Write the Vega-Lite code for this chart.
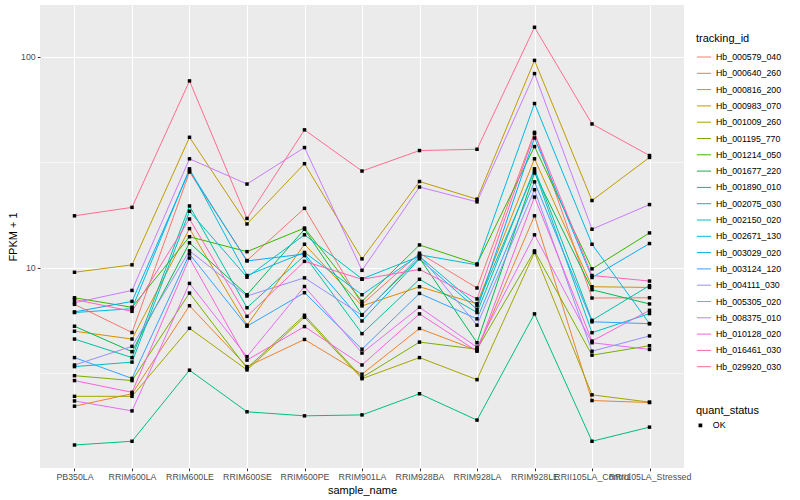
{
"$schema": "https://vega.github.io/schema/vega-lite/v6.json",
"autosize": {"type": "none"},
"width": 644,
"height": 463,
"padding": {"left": 40, "top": 5, "right": 116, "bottom": 32},
"background": "white",
"config": {
  "font": "Liberation Sans",
  "view": {"fill": "#EBEBEB", "stroke": null},
  "axis": {"domain": false, "labelColor": "#4D4D4D", "labelFontSize": 8.8, "tickColor": "#333333", "tickSize": 2.75, "titleFontSize": 11, "titleFontWeight": "normal", "titleColor": "black", "gridColor": "white"},
  "legend": {"titleFontSize": 11, "titleFontWeight": "normal", "titleColor": "black", "labelFontSize": 8.8, "labelColor": "black"}
},
"data": {"values": [
{"tracking_id":"Hb_000579_040","sample_name":"PB350LA","fpkm":6.69,"quant_status":"OK"},
{"tracking_id":"Hb_000579_040","sample_name":"RRIM600LA","fpkm":4.92,"quant_status":"OK"},
{"tracking_id":"Hb_000579_040","sample_name":"RRIM600LE","fpkm":28.4,"quant_status":"OK"},
{"tracking_id":"Hb_000579_040","sample_name":"RRIM600SE","fpkm":10.8,"quant_status":"OK"},
{"tracking_id":"Hb_000579_040","sample_name":"RRIM600PE","fpkm":19.1,"quant_status":"OK"},
{"tracking_id":"Hb_000579_040","sample_name":"RRIM901LA","fpkm":6.69,"quant_status":"OK"},
{"tracking_id":"Hb_000579_040","sample_name":"RRIM928BA","fpkm":11.7,"quant_status":"OK"},
{"tracking_id":"Hb_000579_040","sample_name":"RRIM928LA","fpkm":8.0,"quant_status":"OK"},
{"tracking_id":"Hb_000579_040","sample_name":"RRIM928LE","fpkm":43.8,"quant_status":"OK"},
{"tracking_id":"Hb_000579_040","sample_name":"RRII105LA_Control","fpkm":7.17,"quant_status":"OK"},
{"tracking_id":"Hb_000579_040","sample_name":"RRII105LA_Stressed","fpkm":7.19,"quant_status":"OK"},
{"tracking_id":"Hb_000640_260","sample_name":"PB350LA","fpkm":2.20,"quant_status":"OK"},
{"tracking_id":"Hb_000640_260","sample_name":"RRIM600LA","fpkm":2.52,"quant_status":"OK"},
{"tracking_id":"Hb_000640_260","sample_name":"RRIM600LE","fpkm":6.59,"quant_status":"OK"},
{"tracking_id":"Hb_000640_260","sample_name":"RRIM600SE","fpkm":3.39,"quant_status":"OK"},
{"tracking_id":"Hb_000640_260","sample_name":"RRIM600PE","fpkm":4.56,"quant_status":"OK"},
{"tracking_id":"Hb_000640_260","sample_name":"RRIM901LA","fpkm":3.12,"quant_status":"OK"},
{"tracking_id":"Hb_000640_260","sample_name":"RRIM928BA","fpkm":5.14,"quant_status":"OK"},
{"tracking_id":"Hb_000640_260","sample_name":"RRIM928LA","fpkm":4.05,"quant_status":"OK"},
{"tracking_id":"Hb_000640_260","sample_name":"RRIM928LE","fpkm":17.6,"quant_status":"OK"},
{"tracking_id":"Hb_000640_260","sample_name":"RRII105LA_Control","fpkm":2.34,"quant_status":"OK"},
{"tracking_id":"Hb_000640_260","sample_name":"RRII105LA_Stressed","fpkm":2.29,"quant_status":"OK"},
{"tracking_id":"Hb_000816_200","sample_name":"PB350LA","fpkm":4.99,"quant_status":"OK"},
{"tracking_id":"Hb_000816_200","sample_name":"RRIM600LA","fpkm":4.58,"quant_status":"OK"},
{"tracking_id":"Hb_000816_200","sample_name":"RRIM600LE","fpkm":15.3,"quant_status":"OK"},
{"tracking_id":"Hb_000816_200","sample_name":"RRIM600SE","fpkm":5.33,"quant_status":"OK"},
{"tracking_id":"Hb_000816_200","sample_name":"RRIM600PE","fpkm":12.9,"quant_status":"OK"},
{"tracking_id":"Hb_000816_200","sample_name":"RRIM901LA","fpkm":6.58,"quant_status":"OK"},
{"tracking_id":"Hb_000816_200","sample_name":"RRIM928BA","fpkm":8.11,"quant_status":"OK"},
{"tracking_id":"Hb_000816_200","sample_name":"RRIM928LA","fpkm":6.74,"quant_status":"OK"},
{"tracking_id":"Hb_000816_200","sample_name":"RRIM928LE","fpkm":32.8,"quant_status":"OK"},
{"tracking_id":"Hb_000816_200","sample_name":"RRII105LA_Control","fpkm":8.11,"quant_status":"OK"},
{"tracking_id":"Hb_000816_200","sample_name":"RRII105LA_Stressed","fpkm":8.05,"quant_status":"OK"},
{"tracking_id":"Hb_000983_070","sample_name":"PB350LA","fpkm":9.5,"quant_status":"OK"},
{"tracking_id":"Hb_000983_070","sample_name":"RRIM600LA","fpkm":10.3,"quant_status":"OK"},
{"tracking_id":"Hb_000983_070","sample_name":"RRIM600LE","fpkm":41.5,"quant_status":"OK"},
{"tracking_id":"Hb_000983_070","sample_name":"RRIM600SE","fpkm":16.1,"quant_status":"OK"},
{"tracking_id":"Hb_000983_070","sample_name":"RRIM600PE","fpkm":31.1,"quant_status":"OK"},
{"tracking_id":"Hb_000983_070","sample_name":"RRIM901LA","fpkm":11.0,"quant_status":"OK"},
{"tracking_id":"Hb_000983_070","sample_name":"RRIM928BA","fpkm":25.6,"quant_status":"OK"},
{"tracking_id":"Hb_000983_070","sample_name":"RRIM928LA","fpkm":21.1,"quant_status":"OK"},
{"tracking_id":"Hb_000983_070","sample_name":"RRIM928LE","fpkm":96.1,"quant_status":"OK"},
{"tracking_id":"Hb_000983_070","sample_name":"RRII105LA_Control","fpkm":20.8,"quant_status":"OK"},
{"tracking_id":"Hb_000983_070","sample_name":"RRII105LA_Stressed","fpkm":33.3,"quant_status":"OK"},
{"tracking_id":"Hb_001009_260","sample_name":"PB350LA","fpkm":2.45,"quant_status":"OK"},
{"tracking_id":"Hb_001009_260","sample_name":"RRIM600LA","fpkm":2.45,"quant_status":"OK"},
{"tracking_id":"Hb_001009_260","sample_name":"RRIM600LE","fpkm":5.15,"quant_status":"OK"},
{"tracking_id":"Hb_001009_260","sample_name":"RRIM600SE","fpkm":3.27,"quant_status":"OK"},
{"tracking_id":"Hb_001009_260","sample_name":"RRIM600PE","fpkm":5.81,"quant_status":"OK"},
{"tracking_id":"Hb_001009_260","sample_name":"RRIM901LA","fpkm":2.97,"quant_status":"OK"},
{"tracking_id":"Hb_001009_260","sample_name":"RRIM928BA","fpkm":3.74,"quant_status":"OK"},
{"tracking_id":"Hb_001009_260","sample_name":"RRIM928LA","fpkm":2.94,"quant_status":"OK"},
{"tracking_id":"Hb_001009_260","sample_name":"RRIM928LE","fpkm":11.8,"quant_status":"OK"},
{"tracking_id":"Hb_001009_260","sample_name":"RRII105LA_Control","fpkm":2.49,"quant_status":"OK"},
{"tracking_id":"Hb_001009_260","sample_name":"RRII105LA_Stressed","fpkm":2.30,"quant_status":"OK"},
{"tracking_id":"Hb_001195_770","sample_name":"PB350LA","fpkm":3.07,"quant_status":"OK"},
{"tracking_id":"Hb_001195_770","sample_name":"RRIM600LA","fpkm":2.91,"quant_status":"OK"},
{"tracking_id":"Hb_001195_770","sample_name":"RRIM600LE","fpkm":7.57,"quant_status":"OK"},
{"tracking_id":"Hb_001195_770","sample_name":"RRIM600SE","fpkm":3.33,"quant_status":"OK"},
{"tracking_id":"Hb_001195_770","sample_name":"RRIM600PE","fpkm":5.94,"quant_status":"OK"},
{"tracking_id":"Hb_001195_770","sample_name":"RRIM901LA","fpkm":3.01,"quant_status":"OK"},
{"tracking_id":"Hb_001195_770","sample_name":"RRIM928BA","fpkm":4.43,"quant_status":"OK"},
{"tracking_id":"Hb_001195_770","sample_name":"RRIM928LA","fpkm":4.10,"quant_status":"OK"},
{"tracking_id":"Hb_001195_770","sample_name":"RRIM928LE","fpkm":12.0,"quant_status":"OK"},
{"tracking_id":"Hb_001195_770","sample_name":"RRII105LA_Control","fpkm":3.84,"quant_status":"OK"},
{"tracking_id":"Hb_001195_770","sample_name":"RRII105LA_Stressed","fpkm":4.26,"quant_status":"OK"},
{"tracking_id":"Hb_001214_050","sample_name":"PB350LA","fpkm":7.19,"quant_status":"OK"},
{"tracking_id":"Hb_001214_050","sample_name":"RRIM600LA","fpkm":6.48,"quant_status":"OK"},
{"tracking_id":"Hb_001214_050","sample_name":"RRIM600LE","fpkm":14.0,"quant_status":"OK"},
{"tracking_id":"Hb_001214_050","sample_name":"RRIM600SE","fpkm":11.9,"quant_status":"OK"},
{"tracking_id":"Hb_001214_050","sample_name":"RRIM600PE","fpkm":15.4,"quant_status":"OK"},
{"tracking_id":"Hb_001214_050","sample_name":"RRIM901LA","fpkm":6.91,"quant_status":"OK"},
{"tracking_id":"Hb_001214_050","sample_name":"RRIM928BA","fpkm":12.8,"quant_status":"OK"},
{"tracking_id":"Hb_001214_050","sample_name":"RRIM928LA","fpkm":10.4,"quant_status":"OK"},
{"tracking_id":"Hb_001214_050","sample_name":"RRIM928LE","fpkm":37.5,"quant_status":"OK"},
{"tracking_id":"Hb_001214_050","sample_name":"RRII105LA_Control","fpkm":9.86,"quant_status":"OK"},
{"tracking_id":"Hb_001214_050","sample_name":"RRII105LA_Stressed","fpkm":14.6,"quant_status":"OK"},
{"tracking_id":"Hb_001677_220","sample_name":"PB350LA","fpkm":5.27,"quant_status":"OK"},
{"tracking_id":"Hb_001677_220","sample_name":"RRIM600LA","fpkm":3.99,"quant_status":"OK"},
{"tracking_id":"Hb_001677_220","sample_name":"RRIM600LE","fpkm":13.1,"quant_status":"OK"},
{"tracking_id":"Hb_001677_220","sample_name":"RRIM600SE","fpkm":7.43,"quant_status":"OK"},
{"tracking_id":"Hb_001677_220","sample_name":"RRIM600PE","fpkm":15.2,"quant_status":"OK"},
{"tracking_id":"Hb_001677_220","sample_name":"RRIM901LA","fpkm":5.98,"quant_status":"OK"},
{"tracking_id":"Hb_001677_220","sample_name":"RRIM928BA","fpkm":11.1,"quant_status":"OK"},
{"tracking_id":"Hb_001677_220","sample_name":"RRIM928LA","fpkm":4.40,"quant_status":"OK"},
{"tracking_id":"Hb_001677_220","sample_name":"RRIM928LE","fpkm":28.1,"quant_status":"OK"},
{"tracking_id":"Hb_001677_220","sample_name":"RRII105LA_Control","fpkm":7.85,"quant_status":"OK"},
{"tracking_id":"Hb_001677_220","sample_name":"RRII105LA_Stressed","fpkm":6.72,"quant_status":"OK"},
{"tracking_id":"Hb_001890_010","sample_name":"PB350LA","fpkm":1.44,"quant_status":"OK"},
{"tracking_id":"Hb_001890_010","sample_name":"RRIM600LA","fpkm":1.50,"quant_status":"OK"},
{"tracking_id":"Hb_001890_010","sample_name":"RRIM600LE","fpkm":3.26,"quant_status":"OK"},
{"tracking_id":"Hb_001890_010","sample_name":"RRIM600SE","fpkm":2.07,"quant_status":"OK"},
{"tracking_id":"Hb_001890_010","sample_name":"RRIM600PE","fpkm":1.98,"quant_status":"OK"},
{"tracking_id":"Hb_001890_010","sample_name":"RRIM901LA","fpkm":2.0,"quant_status":"OK"},
{"tracking_id":"Hb_001890_010","sample_name":"RRIM928BA","fpkm":2.52,"quant_status":"OK"},
{"tracking_id":"Hb_001890_010","sample_name":"RRIM928LA","fpkm":1.89,"quant_status":"OK"},
{"tracking_id":"Hb_001890_010","sample_name":"RRIM928LE","fpkm":6.03,"quant_status":"OK"},
{"tracking_id":"Hb_001890_010","sample_name":"RRII105LA_Control","fpkm":1.50,"quant_status":"OK"},
{"tracking_id":"Hb_001890_010","sample_name":"RRII105LA_Stressed","fpkm":1.75,"quant_status":"OK"},
{"tracking_id":"Hb_002075_030","sample_name":"PB350LA","fpkm":4.58,"quant_status":"OK"},
{"tracking_id":"Hb_002075_030","sample_name":"RRIM600LA","fpkm":3.74,"quant_status":"OK"},
{"tracking_id":"Hb_002075_030","sample_name":"RRIM600LE","fpkm":19.6,"quant_status":"OK"},
{"tracking_id":"Hb_002075_030","sample_name":"RRIM600SE","fpkm":6.45,"quant_status":"OK"},
{"tracking_id":"Hb_002075_030","sample_name":"RRIM600PE","fpkm":11.4,"quant_status":"OK"},
{"tracking_id":"Hb_002075_030","sample_name":"RRIM901LA","fpkm":4.86,"quant_status":"OK"},
{"tracking_id":"Hb_002075_030","sample_name":"RRIM928BA","fpkm":8.8,"quant_status":"OK"},
{"tracking_id":"Hb_002075_030","sample_name":"RRIM928LA","fpkm":6.12,"quant_status":"OK"},
{"tracking_id":"Hb_002075_030","sample_name":"RRIM928LE","fpkm":29.4,"quant_status":"OK"},
{"tracking_id":"Hb_002075_030","sample_name":"RRII105LA_Control","fpkm":5.62,"quant_status":"OK"},
{"tracking_id":"Hb_002075_030","sample_name":"RRII105LA_Stressed","fpkm":8.21,"quant_status":"OK"},
{"tracking_id":"Hb_002150_020","sample_name":"PB350LA","fpkm":3.39,"quant_status":"OK"},
{"tracking_id":"Hb_002150_020","sample_name":"RRIM600LA","fpkm":3.56,"quant_status":"OK"},
{"tracking_id":"Hb_002150_020","sample_name":"RRIM600LE","fpkm":18.5,"quant_status":"OK"},
{"tracking_id":"Hb_002150_020","sample_name":"RRIM600SE","fpkm":9.0,"quant_status":"OK"},
{"tracking_id":"Hb_002150_020","sample_name":"RRIM600PE","fpkm":14.3,"quant_status":"OK"},
{"tracking_id":"Hb_002150_020","sample_name":"RRIM901LA","fpkm":8.84,"quant_status":"OK"},
{"tracking_id":"Hb_002150_020","sample_name":"RRIM928BA","fpkm":11.3,"quant_status":"OK"},
{"tracking_id":"Hb_002150_020","sample_name":"RRIM928LA","fpkm":6.62,"quant_status":"OK"},
{"tracking_id":"Hb_002150_020","sample_name":"RRIM928LE","fpkm":28.7,"quant_status":"OK"},
{"tracking_id":"Hb_002150_020","sample_name":"RRII105LA_Control","fpkm":4.91,"quant_status":"OK"},
{"tracking_id":"Hb_002150_020","sample_name":"RRII105LA_Stressed","fpkm":6.05,"quant_status":"OK"},
{"tracking_id":"Hb_002671_130","sample_name":"PB350LA","fpkm":6.12,"quant_status":"OK"},
{"tracking_id":"Hb_002671_130","sample_name":"RRIM600LA","fpkm":6.38,"quant_status":"OK"},
{"tracking_id":"Hb_002671_130","sample_name":"RRIM600LE","fpkm":29.4,"quant_status":"OK"},
{"tracking_id":"Hb_002671_130","sample_name":"RRIM600SE","fpkm":9.17,"quant_status":"OK"},
{"tracking_id":"Hb_002671_130","sample_name":"RRIM600PE","fpkm":11.8,"quant_status":"OK"},
{"tracking_id":"Hb_002671_130","sample_name":"RRIM901LA","fpkm":7.43,"quant_status":"OK"},
{"tracking_id":"Hb_002671_130","sample_name":"RRIM928BA","fpkm":11.5,"quant_status":"OK"},
{"tracking_id":"Hb_002671_130","sample_name":"RRIM928LA","fpkm":10.3,"quant_status":"OK"},
{"tracking_id":"Hb_002671_130","sample_name":"RRIM928LE","fpkm":60.0,"quant_status":"OK"},
{"tracking_id":"Hb_002671_130","sample_name":"RRII105LA_Control","fpkm":12.9,"quant_status":"OK"},
{"tracking_id":"Hb_002671_130","sample_name":"RRII105LA_Stressed","fpkm":5.42,"quant_status":"OK"},
{"tracking_id":"Hb_003029_020","sample_name":"PB350LA","fpkm":6.16,"quant_status":"OK"},
{"tracking_id":"Hb_003029_020","sample_name":"RRIM600LA","fpkm":6.91,"quant_status":"OK"},
{"tracking_id":"Hb_003029_020","sample_name":"RRIM600LE","fpkm":28.9,"quant_status":"OK"},
{"tracking_id":"Hb_003029_020","sample_name":"RRIM600SE","fpkm":10.75,"quant_status":"OK"},
{"tracking_id":"Hb_003029_020","sample_name":"RRIM600PE","fpkm":11.6,"quant_status":"OK"},
{"tracking_id":"Hb_003029_020","sample_name":"RRIM901LA","fpkm":5.58,"quant_status":"OK"},
{"tracking_id":"Hb_003029_020","sample_name":"RRIM928BA","fpkm":11.0,"quant_status":"OK"},
{"tracking_id":"Hb_003029_020","sample_name":"RRIM928LA","fpkm":6.34,"quant_status":"OK"},
{"tracking_id":"Hb_003029_020","sample_name":"RRIM928LE","fpkm":41.2,"quant_status":"OK"},
{"tracking_id":"Hb_003029_020","sample_name":"RRII105LA_Control","fpkm":8.97,"quant_status":"OK"},
{"tracking_id":"Hb_003029_020","sample_name":"RRII105LA_Stressed","fpkm":13.0,"quant_status":"OK"},
{"tracking_id":"Hb_003124_120","sample_name":"PB350LA","fpkm":3.74,"quant_status":"OK"},
{"tracking_id":"Hb_003124_120","sample_name":"RRIM600LA","fpkm":2.98,"quant_status":"OK"},
{"tracking_id":"Hb_003124_120","sample_name":"RRIM600LE","fpkm":11.6,"quant_status":"OK"},
{"tracking_id":"Hb_003124_120","sample_name":"RRIM600SE","fpkm":5.27,"quant_status":"OK"},
{"tracking_id":"Hb_003124_120","sample_name":"RRIM600PE","fpkm":7.60,"quant_status":"OK"},
{"tracking_id":"Hb_003124_120","sample_name":"RRIM901LA","fpkm":4.10,"quant_status":"OK"},
{"tracking_id":"Hb_003124_120","sample_name":"RRIM928BA","fpkm":7.54,"quant_status":"OK"},
{"tracking_id":"Hb_003124_120","sample_name":"RRIM928LA","fpkm":5.71,"quant_status":"OK"},
{"tracking_id":"Hb_003124_120","sample_name":"RRIM928LE","fpkm":25.5,"quant_status":"OK"},
{"tracking_id":"Hb_003124_120","sample_name":"RRII105LA_Control","fpkm":5.53,"quant_status":"OK"},
{"tracking_id":"Hb_003124_120","sample_name":"RRII105LA_Stressed","fpkm":5.42,"quant_status":"OK"},
{"tracking_id":"Hb_004111_030","sample_name":"PB350LA","fpkm":3.45,"quant_status":"OK"},
{"tracking_id":"Hb_004111_030","sample_name":"RRIM600LA","fpkm":4.23,"quant_status":"OK"},
{"tracking_id":"Hb_004111_030","sample_name":"RRIM600LE","fpkm":12.0,"quant_status":"OK"},
{"tracking_id":"Hb_004111_030","sample_name":"RRIM600SE","fpkm":7.33,"quant_status":"OK"},
{"tracking_id":"Hb_004111_030","sample_name":"RRIM600PE","fpkm":8.94,"quant_status":"OK"},
{"tracking_id":"Hb_004111_030","sample_name":"RRIM901LA","fpkm":5.94,"quant_status":"OK"},
{"tracking_id":"Hb_004111_030","sample_name":"RRIM928BA","fpkm":11.4,"quant_status":"OK"},
{"tracking_id":"Hb_004111_030","sample_name":"RRIM928LA","fpkm":5.33,"quant_status":"OK"},
{"tracking_id":"Hb_004111_030","sample_name":"RRIM928LE","fpkm":23.4,"quant_status":"OK"},
{"tracking_id":"Hb_004111_030","sample_name":"RRII105LA_Control","fpkm":4.01,"quant_status":"OK"},
{"tracking_id":"Hb_004111_030","sample_name":"RRII105LA_Stressed","fpkm":4.74,"quant_status":"OK"},
{"tracking_id":"Hb_005305_020","sample_name":"PB350LA","fpkm":6.81,"quant_status":"OK"},
{"tracking_id":"Hb_005305_020","sample_name":"RRIM600LA","fpkm":7.79,"quant_status":"OK"},
{"tracking_id":"Hb_005305_020","sample_name":"RRIM600LE","fpkm":32.8,"quant_status":"OK"},
{"tracking_id":"Hb_005305_020","sample_name":"RRIM600SE","fpkm":24.9,"quant_status":"OK"},
{"tracking_id":"Hb_005305_020","sample_name":"RRIM600PE","fpkm":37.1,"quant_status":"OK"},
{"tracking_id":"Hb_005305_020","sample_name":"RRIM901LA","fpkm":9.7,"quant_status":"OK"},
{"tracking_id":"Hb_005305_020","sample_name":"RRIM928BA","fpkm":24.1,"quant_status":"OK"},
{"tracking_id":"Hb_005305_020","sample_name":"RRIM928LA","fpkm":20.5,"quant_status":"OK"},
{"tracking_id":"Hb_005305_020","sample_name":"RRIM928LE","fpkm":83.2,"quant_status":"OK"},
{"tracking_id":"Hb_005305_020","sample_name":"RRII105LA_Control","fpkm":15.2,"quant_status":"OK"},
{"tracking_id":"Hb_005305_020","sample_name":"RRII105LA_Stressed","fpkm":19.9,"quant_status":"OK"},
{"tracking_id":"Hb_008375_010","sample_name":"PB350LA","fpkm":2.33,"quant_status":"OK"},
{"tracking_id":"Hb_008375_010","sample_name":"RRIM600LA","fpkm":2.09,"quant_status":"OK"},
{"tracking_id":"Hb_008375_010","sample_name":"RRIM600LE","fpkm":8.41,"quant_status":"OK"},
{"tracking_id":"Hb_008375_010","sample_name":"RRIM600SE","fpkm":3.78,"quant_status":"OK"},
{"tracking_id":"Hb_008375_010","sample_name":"RRIM600PE","fpkm":8.13,"quant_status":"OK"},
{"tracking_id":"Hb_008375_010","sample_name":"RRIM901LA","fpkm":3.93,"quant_status":"OK"},
{"tracking_id":"Hb_008375_010","sample_name":"RRIM928BA","fpkm":6.48,"quant_status":"OK"},
{"tracking_id":"Hb_008375_010","sample_name":"RRIM928LA","fpkm":4.19,"quant_status":"OK"},
{"tracking_id":"Hb_008375_010","sample_name":"RRIM928LE","fpkm":14.3,"quant_status":"OK"},
{"tracking_id":"Hb_008375_010","sample_name":"RRII105LA_Control","fpkm":4.40,"quant_status":"OK"},
{"tracking_id":"Hb_008375_010","sample_name":"RRII105LA_Stressed","fpkm":4.09,"quant_status":"OK"},
{"tracking_id":"Hb_010128_020","sample_name":"PB350LA","fpkm":2.91,"quant_status":"OK"},
{"tracking_id":"Hb_010128_020","sample_name":"RRIM600LA","fpkm":2.56,"quant_status":"OK"},
{"tracking_id":"Hb_010128_020","sample_name":"RRIM600LE","fpkm":11.1,"quant_status":"OK"},
{"tracking_id":"Hb_010128_020","sample_name":"RRIM600SE","fpkm":3.64,"quant_status":"OK"},
{"tracking_id":"Hb_010128_020","sample_name":"RRIM600PE","fpkm":5.25,"quant_status":"OK"},
{"tracking_id":"Hb_010128_020","sample_name":"RRIM901LA","fpkm":3.45,"quant_status":"OK"},
{"tracking_id":"Hb_010128_020","sample_name":"RRIM928BA","fpkm":6.03,"quant_status":"OK"},
{"tracking_id":"Hb_010128_020","sample_name":"RRIM928LA","fpkm":4.01,"quant_status":"OK"},
{"tracking_id":"Hb_010128_020","sample_name":"RRIM928LE","fpkm":21.6,"quant_status":"OK"},
{"tracking_id":"Hb_010128_020","sample_name":"RRII105LA_Control","fpkm":4.48,"quant_status":"OK"},
{"tracking_id":"Hb_010128_020","sample_name":"RRII105LA_Stressed","fpkm":6.27,"quant_status":"OK"},
{"tracking_id":"Hb_016461_030","sample_name":"PB350LA","fpkm":7.06,"quant_status":"OK"},
{"tracking_id":"Hb_016461_030","sample_name":"RRIM600LA","fpkm":6.20,"quant_status":"OK"},
{"tracking_id":"Hb_016461_030","sample_name":"RRIM600LE","fpkm":17.0,"quant_status":"OK"},
{"tracking_id":"Hb_016461_030","sample_name":"RRIM600SE","fpkm":5.87,"quant_status":"OK"},
{"tracking_id":"Hb_016461_030","sample_name":"RRIM600PE","fpkm":10.7,"quant_status":"OK"},
{"tracking_id":"Hb_016461_030","sample_name":"RRIM901LA","fpkm":8.80,"quant_status":"OK"},
{"tracking_id":"Hb_016461_030","sample_name":"RRIM928BA","fpkm":9.8,"quant_status":"OK"},
{"tracking_id":"Hb_016461_030","sample_name":"RRIM928LA","fpkm":7.10,"quant_status":"OK"},
{"tracking_id":"Hb_016461_030","sample_name":"RRIM928LE","fpkm":43.2,"quant_status":"OK"},
{"tracking_id":"Hb_016461_030","sample_name":"RRII105LA_Control","fpkm":9.17,"quant_status":"OK"},
{"tracking_id":"Hb_016461_030","sample_name":"RRII105LA_Stressed","fpkm":8.63,"quant_status":"OK"},
{"tracking_id":"Hb_029920_030","sample_name":"PB350LA","fpkm":17.6,"quant_status":"OK"},
{"tracking_id":"Hb_029920_030","sample_name":"RRIM600LA","fpkm":19.3,"quant_status":"OK"},
{"tracking_id":"Hb_029920_030","sample_name":"RRIM600LE","fpkm":76.8,"quant_status":"OK"},
{"tracking_id":"Hb_029920_030","sample_name":"RRIM600SE","fpkm":17.1,"quant_status":"OK"},
{"tracking_id":"Hb_029920_030","sample_name":"RRIM600PE","fpkm":45.0,"quant_status":"OK"},
{"tracking_id":"Hb_029920_030","sample_name":"RRIM901LA","fpkm":28.7,"quant_status":"OK"},
{"tracking_id":"Hb_029920_030","sample_name":"RRIM928BA","fpkm":35.9,"quant_status":"OK"},
{"tracking_id":"Hb_029920_030","sample_name":"RRIM928LA","fpkm":36.4,"quant_status":"OK"},
{"tracking_id":"Hb_029920_030","sample_name":"RRIM928LE","fpkm":138,"quant_status":"OK"},
{"tracking_id":"Hb_029920_030","sample_name":"RRII105LA_Control","fpkm":48.0,"quant_status":"OK"},
{"tracking_id":"Hb_029920_030","sample_name":"RRII105LA_Stressed","fpkm":34.0,"quant_status":"OK"}
]},
"encoding": {
  "x": {"field": "sample_name", "type": "nominal",
        "scale": {"type": "point", "padding": 0.6, "domain": ["PB350LA","RRIM600LA","RRIM600LE","RRIM600SE","RRIM600PE","RRIM901LA","RRIM928BA","RRIM928LA","RRIM928LE","RRII105LA_Control","RRII105LA_Stressed"]},
        "axis": {"title": "sample_name", "labelAngle": 0, "labelOverlap": false, "grid": true, "gridWidth": 1.1, "labelPadding": 2, "titlePadding": 3}},
  "y": {"field": "fpkm", "type": "quantitative",
        "scale": {"type": "log", "domain": [1.12, 176], "nice": false, "zero": false},
        "axis": {"title": "FPKM + 1", "values": [3.1623, 10, 31.623, 100], "grid": true,
                 "labelExpr": "datum.value == 10 || datum.value == 100 ? format(datum.value, 'd') : ''",
                 "tickOpacity": {"condition": {"test": "datum.value == 10 || datum.value == 100", "value": 1}, "value": 0},
                 "gridWidth": {"condition": {"test": "datum.value == 10 || datum.value == 100", "value": 1.1}, "value": 0.55},
                 "labelPadding": 2, "titlePadding": 2}}
},
"layer": [
  {"mark": {"type": "line", "strokeWidth": 1},
   "encoding": {"color": {"field": "tracking_id", "type": "nominal",
      "scale": {"range": ["#F8766D","#EA8331","#D89000","#C09B00","#A3A500","#7CAE00","#39B600","#00BB4E","#00BF7D","#00C1A3","#00BFC4","#00BAE0","#00B0F6","#35A2FF","#9590FF","#C77CFF","#E76BF3","#FA62DB","#FF62BC","#FF6C91"]},
      "legend": {"title": "tracking_id", "orient": "none", "legendX": 656, "legendY": 28, "symbolType": "stroke", "symbolSize": 200, "symbolStrokeWidth": 1, "rowPadding": 3.3, "labelOffset": 4}}}},
  {"mark": {"type": "point", "filled": true, "color": "black", "opacity": 1},
   "encoding": {"shape": {"field": "quant_status", "type": "nominal", "scale": {"range": ["square"]},
      "legend": {"title": "quant_status", "orient": "none", "legendX": 656, "legendY": 400, "symbolSize": 14, "symbolFillColor": "black", "symbolStrokeColor": "black", "labelOffset": 8}},
      "size": {"value": 12}}}
]
}
